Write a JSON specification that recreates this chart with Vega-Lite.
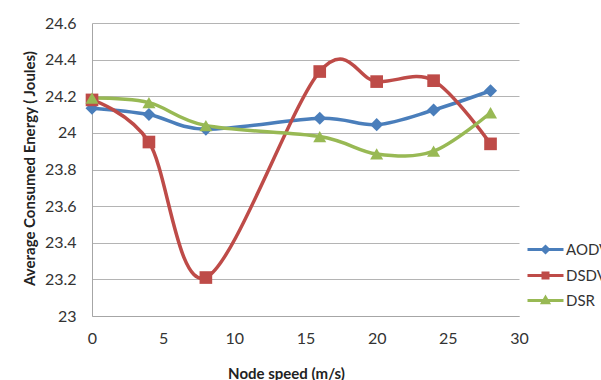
{
  "$schema": "https://vega.github.io/schema/vega-lite/v6.json",
  "width": 427,
  "height": 293,
  "autosize": {"type": "none"},
  "padding": {"left": 92, "top": 23, "right": 82, "bottom": 64},
  "background": "white",
  "config": {
    "view": {"stroke": null},
    "font": "Lato",
    "axis": {
      "labelFont": "Lato",
      "labelFontSize": 16,
      "labelColor": "#333333",
      "labelFlush": false,
      "titleFont": "Lato",
      "titleFontWeight": "bold",
      "titleColor": "#222222",
      "gridColor": "#b4b4b4",
      "gridWidth": 1,
      "domainColor": "#a6a6a6",
      "domainWidth": 1,
      "ticks": false
    }
  },
  "data": {
    "values": [
      {"speed": 0, "protocol": "AODV", "energy": 24.135},
      {"speed": 4, "protocol": "AODV", "energy": 24.10},
      {"speed": 8, "protocol": "AODV", "energy": 24.02},
      {"speed": 16, "protocol": "AODV", "energy": 24.08},
      {"speed": 20, "protocol": "AODV", "energy": 24.045},
      {"speed": 24, "protocol": "AODV", "energy": 24.125},
      {"speed": 28, "protocol": "AODV", "energy": 24.23},
      {"speed": 0, "protocol": "DSDV", "energy": 24.18},
      {"speed": 4, "protocol": "DSDV", "energy": 23.95},
      {"speed": 8, "protocol": "DSDV", "energy": 23.21},
      {"speed": 16, "protocol": "DSDV", "energy": 24.335},
      {"speed": 20, "protocol": "DSDV", "energy": 24.28},
      {"speed": 24, "protocol": "DSDV", "energy": 24.285},
      {"speed": 28, "protocol": "DSDV", "energy": 23.94},
      {"speed": 0, "protocol": "DSR", "energy": 24.19},
      {"speed": 4, "protocol": "DSR", "energy": 24.165},
      {"speed": 8, "protocol": "DSR", "energy": 24.04},
      {"speed": 16, "protocol": "DSR", "energy": 23.98},
      {"speed": 20, "protocol": "DSR", "energy": 23.885},
      {"speed": 24, "protocol": "DSR", "energy": 23.90},
      {"speed": 28, "protocol": "DSR", "energy": 24.11}
    ]
  },
  "encoding": {
    "x": {
      "field": "speed",
      "type": "quantitative",
      "scale": {"domain": [0, 30], "nice": false},
      "axis": {
        "values": [0, 5, 10, 15, 20, 25, 30],
        "grid": false,
        "labelPadding": 14,
        "title": "Node speed (m/s)",
        "titleFontSize": 15,
        "titleX": 194,
        "titleY": 57,
        "titleBaseline": "middle",
        "titleAlign": "center"
      }
    },
    "y": {
      "field": "energy",
      "type": "quantitative",
      "scale": {"domain": [23, 24.6], "nice": false, "zero": false},
      "axis": {
        "values": [23, 23.2, 23.4, 23.6, 23.8, 24, 24.2, 24.4, 24.6],
        "format": "~g",
        "labelPadding": 16,
        "title": "Average Consumed Energy ( Joules)",
        "titleFontSize": 15,
        "titleX": -63,
        "titleY": 145,
        "titleBaseline": "middle",
        "titleAlign": "center",
        "titleAngle": -90
      }
    },
    "color": {
      "field": "protocol",
      "type": "nominal",
      "scale": {"domain": ["AODV", "DSDV", "DSR"], "range": ["#4a7ebb", "#be4b48", "#98b954"]},
      "legend": {
        "title": null,
        "orient": "none",
        "legendX": 442,
        "legendY": 215,
        "padding": 0,
        "symbolSize": 400,
        "symbolStrokeWidth": 3,
        "labelFont": "Lato",
        "labelFontSize": 15,
        "labelColor": "#333333",
        "labelOffset": 9,
        "rowPadding": 5,
        "encode": {
          "symbols": {
            "update": {
              "shape": {"signal": "datum.value === 'AODV' ? 'M-1.8,0H1.8M0,-0.3L0.3,0L0,0.3L-0.3,0Z' : datum.value === 'DSDV' ? 'M-1.8,0H1.8M-0.25,-0.25H0.25V0.25H-0.25Z' : 'M-1.8,0H1.8M-0.3,0.22L0.3,0.22L0,-0.3Z'"},
              "fill": {"scale": "color", "field": "value"},
              "stroke": {"scale": "color", "field": "value"},
              "strokeWidth": {"value": 3},
              "opacity": {"value": 1}
            }
          }
        }
      }
    }
  },
  "layer": [
    {
      "mark": {"type": "line", "interpolate": "cardinal", "strokeWidth": 3.5}
    },
    {
      "transform": [{"filter": "datum.protocol === 'AODV'"}],
      "mark": {"type": "point", "shape": "diamond", "filled": true, "opacity": 1, "size": 170}
    },
    {
      "transform": [{"filter": "datum.protocol === 'DSDV'"}],
      "mark": {"type": "point", "shape": "square", "filled": true, "opacity": 1, "size": 160}
    },
    {
      "transform": [{"filter": "datum.protocol === 'DSR'"}],
      "mark": {"type": "point", "shape": "triangle-up", "filled": true, "opacity": 1, "size": 170}
    }
  ]
}
